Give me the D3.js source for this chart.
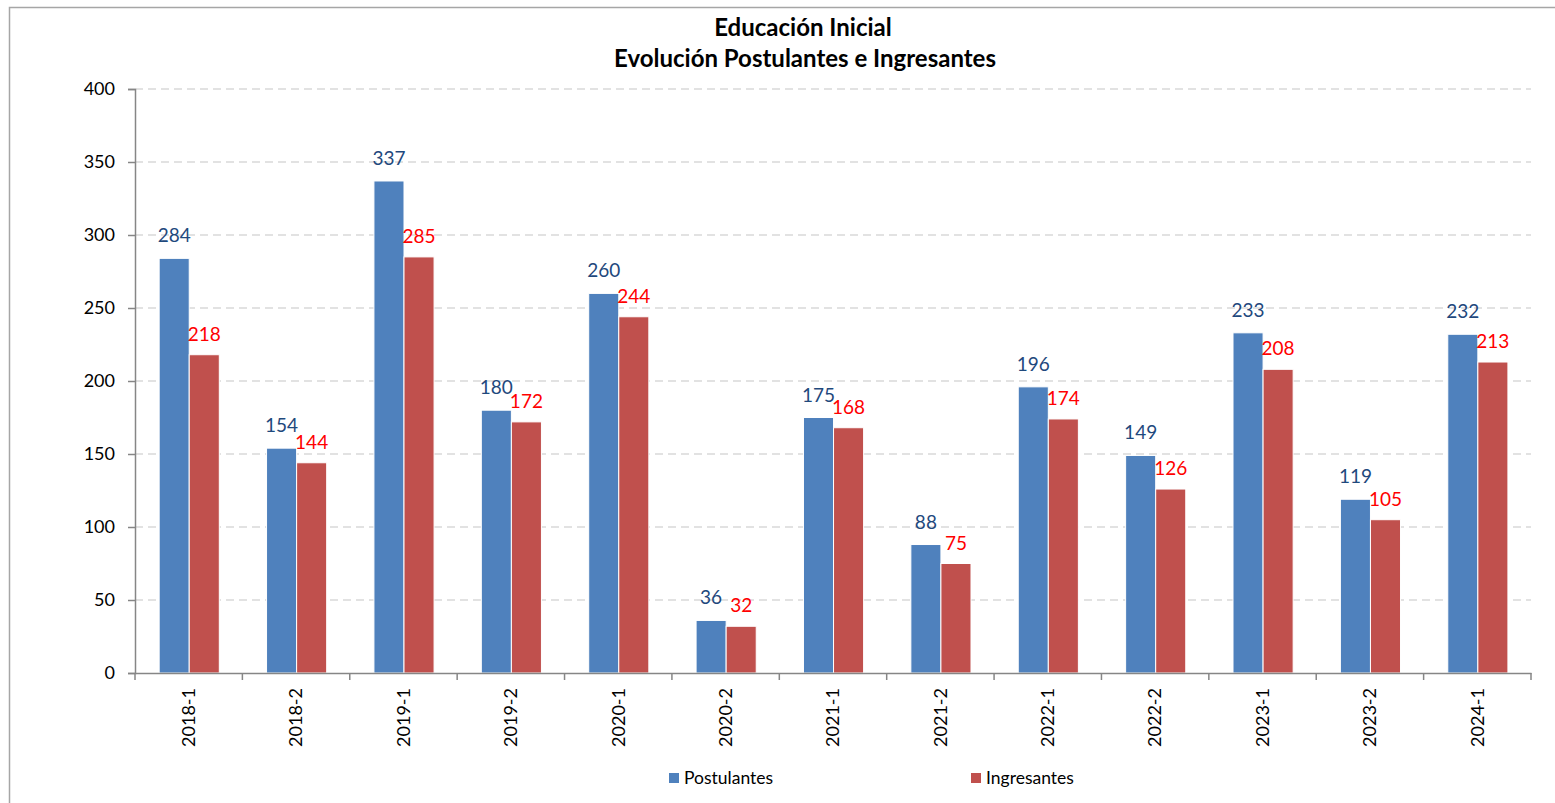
<!DOCTYPE html>
<html>
<head>
<meta charset="utf-8">
<script src="https://cdn.jsdelivr.net/npm/d3@7"></script>
<style>
  body { margin: 0; background: #fff; }
  svg { display: block; font-family: Lato, "Open Sans", sans-serif; }
</style>
</head>
<body>
<svg id="chart" width="1555" height="803"></svg>
<script>
// chart data
var periods = ["2018-1", "2018-2", "2019-1", "2019-2", "2020-1", "2020-2", "2021-1",
               "2021-2", "2022-1", "2022-2", "2023-1", "2023-2", "2024-1"];
var postulantes = [284, 154, 337, 180, 260, 36, 175, 88, 196, 149, 233, 119, 232];
var ingresantes = [218, 144, 285, 172, 244, 32, 168, 75, 174, 126, 208, 105, 213];
var seriesNames = ["Postulantes", "Ingresantes"];
var yTicks = [0, 50, 100, 150, 200, 250, 300, 350, 400];

var colors = ["#4F81BD", "#C0504D"];
var labelColors = ["#1F497D", "#FF0000"];

var svg = d3.select("#chart");
var m = { left: 135, right: 1531, top: 89, bottom: 673 };

// outer frame
svg.append("rect")
  .attr("x", 9.5).attr("y", 7.5)
  .attr("width", 1560).attr("height", 810)
  .attr("fill", "none").attr("stroke", "#a6a6a6").attr("stroke-width", 1.5);

// title
svg.append("text").attr("x", 803).attr("y", 36)
  .attr("text-anchor", "middle").attr("font-weight", "bold").attr("font-size", 24)
  .text("Educación Inicial");
svg.append("text").attr("x", 805).attr("y", 67)
  .attr("text-anchor", "middle").attr("font-weight", "bold").attr("font-size", 24)
  .text("Evolución Postulantes e Ingresantes");

var x = d3.scaleBand().domain(periods).range([m.left, m.right]);
var x1 = d3.scaleBand().domain([0, 1])
  .range([x.bandwidth() * 0.225, x.bandwidth() * 0.785]);
var y = d3.scaleLinear().domain([0, 400]).range([m.bottom, m.top]);

// gridlines
svg.append("g").selectAll("line")
  .data(yTicks.filter(function(d) { return d > 0; }))
  .enter().append("line")
  .attr("x1", m.left).attr("x2", m.right)
  .attr("y1", function(d) { return y(d); }).attr("y2", function(d) { return y(d); })
  .attr("stroke", "#d9d9d9").attr("stroke-width", 1.5)
  .attr("stroke-dasharray", "8,5");

// y axis
var yAxis = svg.append("g")
  .attr("transform", "translate(" + m.left + ",0)")
  .call(d3.axisLeft(y).tickValues(yTicks).tickSize(7).tickPadding(13));
yAxis.selectAll("text").attr("font-size", 18).attr("fill", "#000")
  .attr("font-family", "Lato, sans-serif");

// bars
var data = periods.map(function(p, i) {
  return { period: p, values: [postulantes[i], ingresantes[i]] };
});

var groups = svg.append("g").selectAll("g")
  .data(data).enter().append("g")
  .attr("transform", function(d) { return "translate(" + x(d.period) + ",0)"; });

groups.selectAll("rect")
  .data(function(d) { return d.values; })
  .enter().append("rect")
  .attr("x", function(d, i) { return x1(i); })
  .attr("y", function(d) { return y(d); })
  .attr("width", x1.bandwidth())
  .attr("height", function(d) { return y(0) - y(d); })
  .attr("fill", function(d, i) { return colors[i]; })
  .attr("stroke", "#fff").attr("stroke-width", 1);

groups.selectAll("text")
  .data(function(d) { return d.values; })
  .enter().append("text")
  .attr("x", function(d, i) { return x1(i) + x1.bandwidth() / 2; })
  .attr("y", function(d, i) { return y(d) - (i === 0 ? 16 : 14); })
  .attr("text-anchor", "middle").attr("font-size", 19)
  .attr("fill", function(d, i) { return labelColors[i]; })
  .text(function(d) { return d; });

// x axis
var xAxis = svg.append("g")
  .attr("transform", "translate(0," + m.bottom + ")")
  .call(d3.axisBottom(x).tickSize(0));
xAxis.selectAll("text")
  .attr("font-size", 18).attr("fill", "#000").attr("font-family", "Lato, sans-serif")
  .attr("transform", "rotate(-90)")
  .attr("text-anchor", "end")
  .attr("x", -15).attr("y", 0).attr("dy", "0.35em");
// category boundary ticks
svg.append("g").selectAll("line")
  .data(periods.concat(["end"]))
  .enter().append("line")
  .attr("x1", function(d, i) { return m.left + i * x.step(); })
  .attr("x2", function(d, i) { return m.left + i * x.step(); })
  .attr("y1", m.bottom).attr("y2", m.bottom + 7)
  .attr("stroke", "#868686").attr("stroke-width", 1.5);

svg.selectAll(".domain").attr("stroke", "#868686").attr("stroke-width", 1.5);
yAxis.selectAll(".tick line").attr("stroke", "#868686").attr("stroke-width", 1.5);

// legend
var legendX = [669, 971];
var legend = svg.append("g").selectAll("g")
  .data(seriesNames).enter().append("g")
  .attr("transform", function(d, i) { return "translate(" + legendX[i] + ",773)"; });
legend.append("rect").attr("width", 10).attr("height", 10)
  .attr("fill", function(d, i) { return colors[i]; });
legend.append("text").attr("x", 15).attr("y", 5).attr("dy", "0.35em")
  .attr("font-size", 17.5).text(function(d) { return d; });
</script>
</body>
</html>
